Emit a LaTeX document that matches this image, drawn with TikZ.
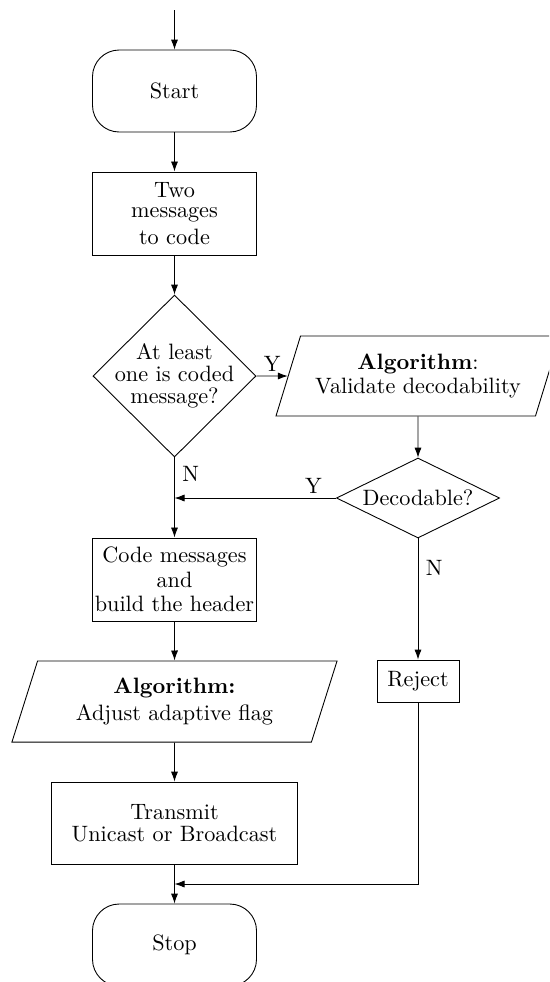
\documentclass[tikz,border=0pt]{standalone}
\usetikzlibrary{shapes.geometric,arrows.meta}
\begin{document}
\begin{tikzpicture}[x=0.45pt, y=-0.45pt, >={Latex[length=4.5pt,width=3.2pt]}, font=\fontsize{10}{10}\selectfont,
  term/.style={draw, rounded corners=12pt, minimum width=73.8pt, minimum height=36.9pt},
  proc/.style={draw, align=center, minimum width=73.8pt, minimum height=37.4pt, inner sep=1pt},
  decide/.style={draw, diamond, align=center, inner sep=0pt},
  io/.style={draw, trapezium, trapezium left angle=63.4, trapezium right angle=116.6,
    trapezium stretches body, align=center, inner sep=1pt, minimum height=36pt}]
  \clip (0,0) rectangle (549,982);
  \coordinate (in) at (174.5,10);
  \node[term] (start) at (174.5,91) {Start};
  \node[proc] (two) at (174.5,213.5) {Two\\[-1.2pt]messages\\[2.2pt]to code};
  \node[decide, inner sep=-3pt, minimum width=73.4pt, minimum height=72.9pt] (coded) at (174.5,376) {At least\\one is coded\\message?};
  \node[io, minimum width=127.8pt] (valid) at (418,376) {\textbf{Algorithm}:\\[1pt]Validate decodability};
  \node[decide, aspect=2, minimum width=73.4pt, minimum height=36pt] (decod) at (418,498) {Decodable?};
  \node[proc] (code) at (174.5,579.5) {Code messages\\[1pt]and\\[1pt]build the header};
  \node[io, minimum width=146.3pt, minimum height=36.5pt] (adjust) at (174.5,701.5) {\textbf{Algorithm:}\\[2pt]Adjust adaptive flag};
  \node[proc, minimum width=110.3pt, minimum height=36.9pt] (send) at (174.5,823) {Transmit\\Unicast or Broadcast};
  \node[proc, minimum width=36.9pt, minimum height=18.9pt] (reject) at (418,681) {Reject};
  \node[term] (stop) at (174.5,945) {Stop};
  \coordinate (join) at (174.5,498);
  \coordinate (merge) at (174.5,884);

  \draw[->] (in) -- (start);
  \draw[->] (start) -- (two);
  \draw[->] (two) -- (coded);
  \draw[->] (coded) -- node[above, inner sep=2pt] {Y} (valid);
  \draw[->] (valid) -- (decod);
  \draw[->] (decod) -- node[above, pos=0.14, inner sep=2pt] {Y} (join);
  \draw[->] (coded) -- node[right, pos=0.2] {N} (code);
  \draw[->] (decod) -- node[right, pos=0.24] {N} (reject);
  \draw[->] (code) -- (adjust);
  \draw[->] (adjust) -- (send);
  \draw[->] (send) -- (stop);
  \draw[->] (reject) |- (merge);
\end{tikzpicture}
\end{document}
